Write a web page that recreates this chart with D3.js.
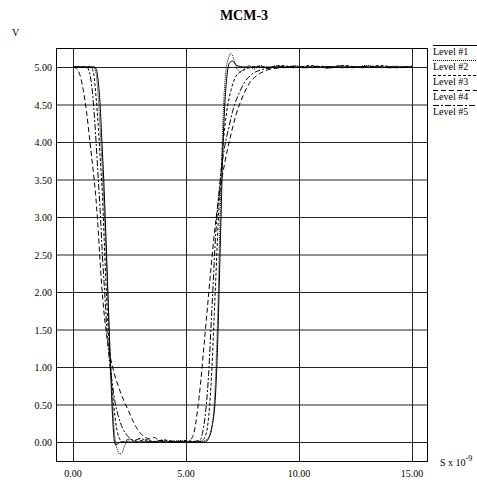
<!DOCTYPE html>
<html>
<head>
<meta charset="utf-8">
<script src="https://cdn.jsdelivr.net/npm/d3@7"></script>
<style>
  body { margin: 0; background: #fff; }
  text { font-family: "Liberation Serif", "Times New Roman", serif; fill: #000; }
</style>
</head>
<body>
<script>
// tick values
let xTicks = [0, 5, 10, 15];
let yTicks = [0, 0.5, 1, 1.5, 2, 2.5, 3, 3.5, 4, 4.5, 5];
let levelNames = ["Level #1", "Level #2", "Level #3", "Level #4", "Level #5"];

// [time (ns), volts]
let level1 = [[0,5],[0.95,5],[1.05,4.95],[1.12,4.8],[1.2,4.5],[1.28,4.0],[1.36,3.5],[1.45,2.8],[1.52,2.2],[1.6,1.5],[1.67,0.9],[1.74,0.4],[1.8,0.1],[1.86,-0.03],[1.95,-0.03],[2.1,0],[5.85,0],[6.0,0.05],[6.15,0.2],[6.3,0.6],[6.4,1.3],[6.48,2.2],[6.55,3.0],[6.62,3.8],[6.7,4.4],[6.8,4.85],[6.92,5.05],[7.05,5.08],[7.25,5.02],[7.6,5.0],[15,5.0]];

let level2 = [[0,5],[0.9,5],[1.0,4.95],[1.08,4.75],[1.16,4.4],[1.25,3.9],[1.35,3.3],[1.45,2.6],[1.55,1.9],[1.63,1.3],[1.72,0.7],[1.8,0.25],[1.88,0],[1.96,-0.1],[2.06,-0.16],[2.16,-0.15],[2.26,-0.07],[2.38,0.0],[2.55,0.04],[2.7,0.01],[2.9,0.04],[3.1,0.0],[3.3,0.03],[3.6,0.0],[3.9,0.02],[4.3,0.0],[4.7,0.02],[5.2,0.0],[5.7,0.01],[5.95,0.04],[6.1,0.15],[6.25,0.5],[6.35,1.2],[6.43,2.0],[6.5,2.9],[6.57,3.7],[6.65,4.4],[6.75,4.9],[6.88,5.12],[6.98,5.18],[7.1,5.12],[7.25,4.98],[7.4,4.94],[7.6,4.98],[7.8,5.02],[8.0,4.97],[8.3,5.02],[8.6,4.98],[9.0,5.02],[9.4,4.99],[9.8,5.02],[10.3,4.99],[10.8,5.01],[11.3,4.98],[11.8,5.02],[12.4,4.99],[13,5.02],[13.6,4.99],[14.2,5.01],[15,5.0]];

let level3 = [[0,5],[0.8,5],[0.92,4.9],[1.02,4.6],[1.12,4.2],[1.22,3.7],[1.3,3.3],[1.38,2.7],[1.46,2.1],[1.56,1.5],[1.68,0.95],[1.8,0.5],[1.92,0.2],[2.05,0.05],[2.2,0],[2.5,0.04],[2.8,0.0],[3.2,0.03],[3.6,0.0],[4.0,0.03],[4.5,0.0],[5.0,0.02],[5.5,0.0],[5.75,0.03],[5.9,0.12],[6.05,0.5],[6.15,1.0],[6.25,1.7],[6.35,2.4],[6.45,3.1],[6.55,3.6],[6.65,4.0],[6.8,4.4],[7.0,4.7],[7.2,4.87],[7.5,4.95],[7.8,4.99],[8.2,5.01],[8.6,4.99],[9.2,5.02],[9.8,4.99],[10.5,5.02],[11.2,4.99],[12,5.02],[12.8,4.99],[13.6,5.02],[14.4,4.99],[15,5.01]];

let level4 = [[0,5],[0.15,4.98],[0.3,4.9],[0.45,4.7],[0.6,4.4],[0.75,4.0],[0.9,3.6],[1.0,3.3],[1.1,2.9],[1.2,2.4],[1.32,1.9],[1.5,1.4],[1.75,1.0],[2.0,0.75],[2.25,0.55],[2.45,0.42],[2.7,0.25],[2.95,0.13],[3.2,0.06],[3.45,0.04],[3.6,0.06],[3.8,0.02],[4.2,0.0],[5.0,0.0],[5.2,0.03],[5.35,0.12],[5.5,0.4],[5.65,0.8],[5.8,1.3],[5.95,1.8],[6.1,2.3],[6.3,2.9],[6.5,3.35],[6.7,3.7],[6.95,4.05],[7.2,4.35],[7.5,4.6],[7.8,4.78],[8.2,4.9],[8.6,4.96],[9.2,4.99],[10,5.0],[15,5.0]];

let level5 = [[0,5],[0.6,5],[0.75,4.9],[0.88,4.6],[1.0,4.1],[1.1,3.6],[1.2,3.1],[1.3,2.5],[1.4,2.0],[1.5,1.5],[1.62,1.05],[1.73,0.8],[1.85,0.55],[2.0,0.35],[2.2,0.18],[2.45,0.07],[2.7,0.02],[3.0,0.05],[3.3,0.0],[4.0,0.02],[5.0,0],[5.6,0.02],[5.75,0.15],[5.9,0.5],[6.0,0.9],[6.1,1.5],[6.2,2.1],[6.3,2.7],[6.42,3.2],[6.55,3.6],[6.72,3.95],[6.9,4.2],[7.1,4.45],[7.35,4.65],[7.6,4.8],[7.9,4.9],[8.3,4.96],[8.8,4.99],[9.5,5.01],[10.2,4.99],[11,5.01],[12,4.99],[13,5.01],[14,4.99],[15,5.0]];

let series = [level1, level2, level3, level4, level5];
let dashes = ["none", "1,1", "3,2", "5,3", "6,2,2,2"];

let svg = d3.select("body").append("svg")
  .attr("width", 477)
  .attr("height", 480);

let box = { left: 56, right: 427, top: 48, bottom: 461 };

let x = d3.scaleLinear().domain([0, 15]).range([73, 412]);
let y = d3.scaleLinear().domain([0, 5]).range([442, 67]);

// grid
svg.selectAll()
  .data(yTicks)
  .enter()
    .append("line")
      .attr("x1", box.left).attr("x2", box.right)
      .attr("y1", d => y(d) + 0.5).attr("y2", d => y(d) + 0.5)
      .attr("stroke", "#222").attr("stroke-width", 1);

svg.selectAll()
  .data(xTicks)
  .enter()
    .append("line")
      .attr("y1", box.top).attr("y2", box.bottom)
      .attr("x1", d => x(d) + 0.5).attr("x2", d => x(d) + 0.5)
      .attr("stroke", "#222").attr("stroke-width", 1);

svg.append("rect")
  .attr("x", box.left + 0.5).attr("y", box.top + 0.5)
  .attr("width", box.right - box.left).attr("height", box.bottom - box.top)
  .attr("fill", "none").attr("stroke", "#000");

// tick labels
svg.selectAll()
  .data(yTicks)
  .enter()
    .append("text")
      .attr("x", 52)
      .attr("y", d => y(d) + 4)
      .attr("text-anchor", "end")
      .attr("font-size", 10)
      .text(d => d3.format(".2f")(d));

svg.selectAll()
  .data(xTicks)
  .enter()
    .append("text")
      .attr("x", d => x(d))
      .attr("y", 477)
      .attr("text-anchor", "middle")
      .attr("font-size", 10)
      .text(d => d3.format(".2f")(d));

// curves
let line = d3.line()
  .x(d => x(d[0]))
  .y(d => y(d[1]))
  .curve(d3.curveMonotoneX);

svg.selectAll()
  .data(series)
  .enter()
    .append("path")
      .attr("d", line)
      .attr("fill", "none")
      .attr("stroke", "#000")
      .attr("stroke-width", 1)
      .attr("stroke-dasharray", (d, i) => dashes[i]);

// titles
svg.append("text")
  .attr("x", 244).attr("y", 20)
  .attr("text-anchor", "middle")
  .attr("font-size", 14).attr("font-weight", "bold")
  .text("MCM-3");

svg.append("text")
  .attr("x", 12).attr("y", 36)
  .attr("font-size", 10)
  .text("V");

let unit = svg.append("text")
  .attr("x", 440).attr("y", 466)
  .attr("font-size", 10);
unit.append("tspan").text("S x 10");
unit.append("tspan").attr("font-size", 8).attr("dy", -5).text("-9");

// legend
let legend = svg.selectAll()
  .data(levelNames)
  .enter()
    .append("g")
      .attr("transform", (d, i) => "translate(433," + (45 + i * 15) + ")");

legend.append("line")
  .attr("x1", 0).attr("x2", 44)
  .attr("y1", 0.5).attr("y2", 0.5)
  .attr("stroke", "#000")
  .attr("stroke-dasharray", (d, i) => dashes[i]);

legend.append("text")
  .attr("x", 0).attr("y", 10)
  .attr("font-size", 10)
  .text(d => d);
</script>
</body>
</html>
